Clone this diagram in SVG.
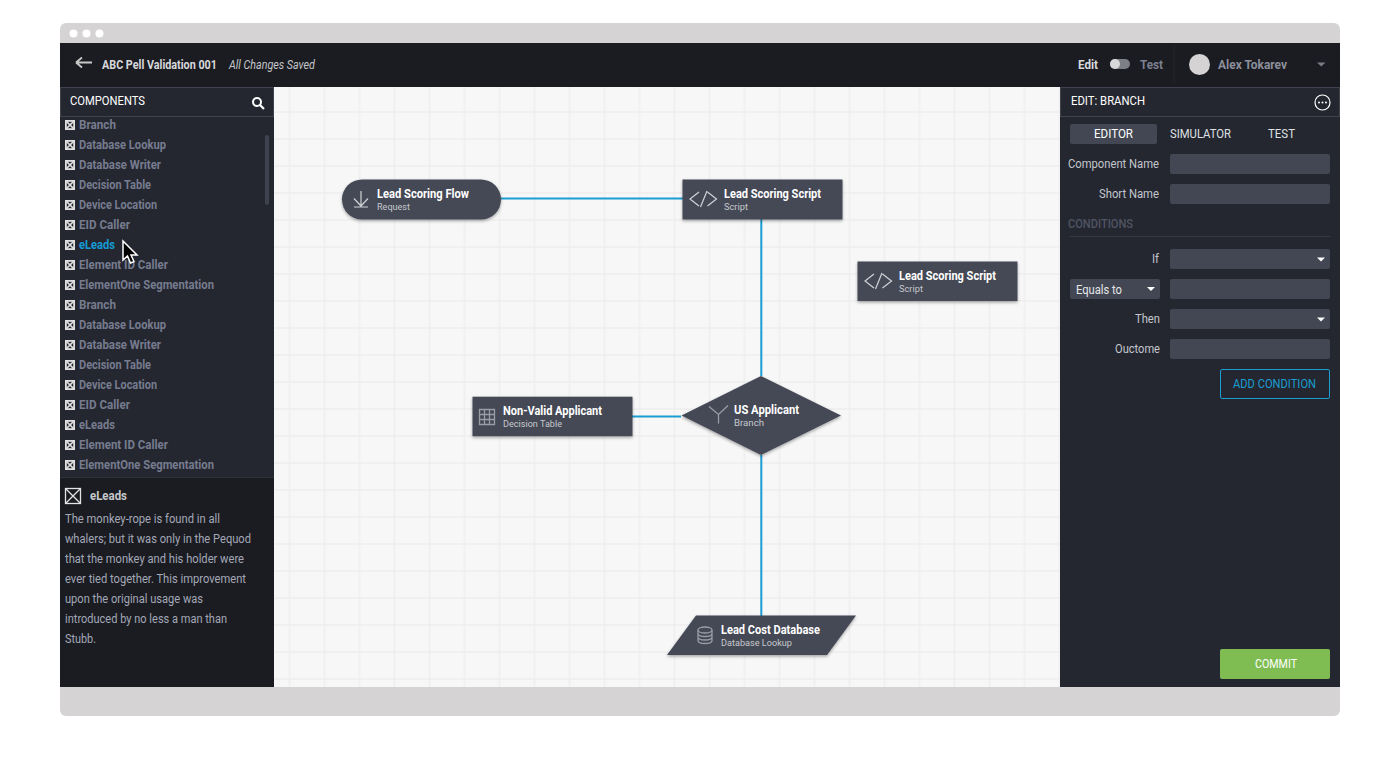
<svg xmlns="http://www.w3.org/2000/svg" width="1400" height="768" viewBox="0 0 1400 768">
<defs>
<pattern id="grid" x="288.500" y="30" width="35" height="27" patternUnits="userSpaceOnUse">
<rect width="35" height="27" fill="#f7f7f7"/>
<path d="M1 0V27M0 1H35" stroke="#eeeeee" stroke-width="1.500" fill="none"/>
</pattern>
<filter id="sh" x="-10%" y="-20%" width="120%" height="150%"><feDropShadow dx="0" dy="1.500" stdDeviation="1.500" flood-color="#000" flood-opacity="0.35"/></filter>
<symbol id="x" viewBox="0 0 10 10" overflow="visible"><rect x="0.900" y="0.900" width="8.200" height="8.200" fill="#252730" stroke="#e0e0e0" stroke-width="1.800"/><path d="M1.500 1.500L8.500 8.500M8.500 1.500L1.500 8.500" stroke="#e0e0e0" stroke-width="1.700"/></symbol>
</defs>
<style>
text{font-family:"Roboto","Liberation Sans",sans-serif}
.li{font-size:12px;font-weight:700;fill:#767c8f}
.t{font-size:12.5px;font-weight:700;fill:#fff}
.s{font-size:9.5px;fill:#c6c8ce}
.lb{font-size:12px;fill:#c3c6ce}
.h{font-size:12px;fill:#fff}
.d{font-size:12px;fill:#a3a8b8}
.fld{fill:#424753}
.n{fill:#444955;filter:url(#sh)}
.ic{fill:none;stroke:#d0d2d6;stroke-width:1.200}
.ic2{fill:none;stroke:#9a9da6;stroke-width:1.300}
.car{fill:#fff}
</style>
<rect width="1400" height="768" fill="#fff"/>
<rect x="60" y="23" width="1280" height="693" rx="6" fill="#d5d3d4"/>
<g fill="#fff"><circle cx="73.500" cy="33.500" r="4"/><circle cx="86.500" cy="33.500" r="4"/><circle cx="99.500" cy="33.500" r="4"/></g>

<g id="topbar">
<rect x="60" y="43" width="1280" height="44" fill="#1b1c21"/>
<path d="M76 62.500H92M76 62.500L82 57.500M76 62.500L82 67.500" fill="none" stroke="#c9c9c9" stroke-width="1.800"/>
<text x="102" y="69" class="t" style="font-size:12px;fill:#d8d9dc" textLength="115" lengthAdjust="spacingAndGlyphs">ABC Pell Validation 001</text>
<text x="229" y="69" font-size="12" font-style="italic" fill="#c3c5ca" textLength="86" lengthAdjust="spacingAndGlyphs">All Changes Saved</text>
<text x="1078" y="69" font-size="12" font-weight="700" fill="#d8d9dc" textLength="20" lengthAdjust="spacingAndGlyphs">Edit</text>
<rect x="1110" y="59" width="20" height="10" rx="5" fill="#7d7f86"/><circle cx="1115" cy="64" r="5" fill="#d8d8d8"/>
<text x="1140" y="69" font-size="12" font-weight="700" fill="#7c8090" textLength="23" lengthAdjust="spacingAndGlyphs">Test</text>
<path d="M1174 44V83" stroke="#24252b"/>
<circle cx="1199.500" cy="64.500" r="10.500" fill="#d5d3d4"/>
<text x="1218" y="69" font-size="12" font-weight="700" fill="#8b8f9b" textLength="69" lengthAdjust="spacingAndGlyphs">Alex Tokarev</text>
<path d="M1317 62.500H1325.500L1321.200 66.500Z" fill="#7a7d86"/>
</g>

<rect x="274" y="87" width="786" height="600" fill="url(#grid)"/>

<g id="sidebar">
<rect x="60" y="87" width="214" height="391" fill="#252730"/>
<rect x="60.500" y="87.500" width="213" height="29" fill="#252730" stroke="#3f4350"/>
<text x="70" y="105" class="h" textLength="75" lengthAdjust="spacingAndGlyphs">COMPONENTS</text>
<circle cx="257" cy="102" r="4" fill="none" stroke="#fff" stroke-width="2"/><path d="M260 105L264 109" stroke="#fff" stroke-width="2.200"/>
<rect x="265" y="135" width="4" height="70" rx="2" fill="#3e424e"/>
<g>
<use href="#x" x="65" y="120" width="10" height="10"/><text x="79" y="129" class="li" textLength="37" lengthAdjust="spacingAndGlyphs">Branch</text>
<use href="#x" x="65" y="140" width="10" height="10"/><text x="79" y="149" class="li" textLength="87" lengthAdjust="spacingAndGlyphs">Database Lookup</text>
<use href="#x" x="65" y="160" width="10" height="10"/><text x="79" y="169" class="li" textLength="82" lengthAdjust="spacingAndGlyphs">Database Writer</text>
<use href="#x" x="65" y="180" width="10" height="10"/><text x="79" y="189" class="li" textLength="72" lengthAdjust="spacingAndGlyphs">Decision Table</text>
<use href="#x" x="65" y="200" width="10" height="10"/><text x="79" y="209" class="li" textLength="78" lengthAdjust="spacingAndGlyphs">Device Location</text>
<use href="#x" x="65" y="220" width="10" height="10"/><text x="79" y="229" class="li" textLength="51" lengthAdjust="spacingAndGlyphs">EID Caller</text>
<use href="#x" x="65" y="240" width="10" height="10"/><text x="79" y="249" class="li" style="fill:#169bd5" textLength="36" lengthAdjust="spacingAndGlyphs">eLeads</text>
<use href="#x" x="65" y="260" width="10" height="10"/><text x="79" y="269" class="li" textLength="89" lengthAdjust="spacingAndGlyphs">Element ID Caller</text>
<use href="#x" x="65" y="280" width="10" height="10"/><text x="79" y="289" class="li" textLength="135" lengthAdjust="spacingAndGlyphs">ElementOne Segmentation</text>
<use href="#x" x="65" y="300" width="10" height="10"/><text x="79" y="309" class="li" textLength="37" lengthAdjust="spacingAndGlyphs">Branch</text>
<use href="#x" x="65" y="320" width="10" height="10"/><text x="79" y="329" class="li" textLength="87" lengthAdjust="spacingAndGlyphs">Database Lookup</text>
<use href="#x" x="65" y="340" width="10" height="10"/><text x="79" y="349" class="li" textLength="82" lengthAdjust="spacingAndGlyphs">Database Writer</text>
<use href="#x" x="65" y="360" width="10" height="10"/><text x="79" y="369" class="li" textLength="72" lengthAdjust="spacingAndGlyphs">Decision Table</text>
<use href="#x" x="65" y="380" width="10" height="10"/><text x="79" y="389" class="li" textLength="78" lengthAdjust="spacingAndGlyphs">Device Location</text>
<use href="#x" x="65" y="400" width="10" height="10"/><text x="79" y="409" class="li" textLength="51" lengthAdjust="spacingAndGlyphs">EID Caller</text>
<use href="#x" x="65" y="420" width="10" height="10"/><text x="79" y="429" class="li" textLength="36" lengthAdjust="spacingAndGlyphs">eLeads</text>
<use href="#x" x="65" y="440" width="10" height="10"/><text x="79" y="449" class="li" textLength="89" lengthAdjust="spacingAndGlyphs">Element ID Caller</text>
<use href="#x" x="65" y="460" width="10" height="10"/><text x="79" y="469" class="li" textLength="135" lengthAdjust="spacingAndGlyphs">ElementOne Segmentation</text>
</g>
<rect x="60" y="477" width="214" height="210" fill="#1b1c21"/>
<path d="M60 477.500H274" stroke="#30323b"/>
<rect x="65.500" y="488.500" width="15" height="15" fill="none" stroke="#e4e4e4" stroke-width="1.300"/><path d="M66 489L80 503M80 489L66 503" stroke="#e4e4e4" stroke-width="1.300"/>
<text x="90" y="500" font-size="12" font-weight="700" fill="#c6c8cd" textLength="37" lengthAdjust="spacingAndGlyphs">eLeads</text>
<text x="65" y="523" class="d" textLength="155" lengthAdjust="spacingAndGlyphs">The monkey-rope is found in all</text>
<text x="65" y="543" class="d" textLength="186" lengthAdjust="spacingAndGlyphs">whalers; but it was only in the Pequod</text>
<text x="65" y="563" class="d" textLength="179" lengthAdjust="spacingAndGlyphs">that the monkey and his holder were</text>
<text x="65" y="583" class="d" textLength="181" lengthAdjust="spacingAndGlyphs">ever tied together. This improvement</text>
<text x="65" y="603" class="d" textLength="138" lengthAdjust="spacingAndGlyphs">upon the original usage was</text>
<text x="65" y="623" class="d" textLength="162" lengthAdjust="spacingAndGlyphs">introduced by no less a man than</text>
<text x="65" y="643" class="d" textLength="31" lengthAdjust="spacingAndGlyphs">Stubb.</text>
<path d="M123 241V260L127.500 256L130.500 263L134 261.500L131 255H137Z" fill="#000" stroke="#fff" stroke-width="1.500"/>
</g>

<g id="connectors" fill="none" stroke="#1a9dd2" stroke-width="2">
<path d="M501 198.500H683"/>
<path d="M761.300 219V376"/>
<path d="M632 416.500H681"/>
<path d="M761.300 455V616"/>
</g>

<g id="node-flow">
<rect class="n" x="342" y="179.500" width="159" height="40" rx="20"/>
<path d="M361 191V206M354 198.500L361 206L368 198.500M354 207H368" class="ic"/>
<text x="377" y="198" class="t" textLength="92" lengthAdjust="spacingAndGlyphs">Lead Scoring Flow</text>
<text x="377" y="210" class="s" textLength="33" lengthAdjust="spacingAndGlyphs">Request</text>
</g>
<g id="node-script1">
<rect class="n" x="682.500" y="179.500" width="160" height="40"/>
<path d="M699 192L690 199L699 206M700.500 207L707 191M707.500 192L716.500 199L707.500 206" class="ic"/>
<text x="724" y="198" class="t" textLength="97" lengthAdjust="spacingAndGlyphs">Lead Scoring Script</text>
<text x="724" y="210" class="s" textLength="24" lengthAdjust="spacingAndGlyphs">Script</text>
</g>
<g id="node-script2">
<rect class="n" x="857.500" y="261.500" width="160" height="39.500"/>
<path d="M874 274L865 281L874 288M875.500 289L882 273M882.500 274L891.500 281L882.500 288" class="ic"/>
<text x="899" y="280" class="t" textLength="97" lengthAdjust="spacingAndGlyphs">Lead Scoring Script</text>
<text x="899" y="292" class="s" textLength="24" lengthAdjust="spacingAndGlyphs">Script</text>
</g>
<g id="node-table">
<rect class="n" x="472.500" y="396.700" width="160" height="39.500"/>
<path d="M479.500 409.500H494.500V424.500H479.500ZM479.500 414.500H494.500M479.500 419.500H494.500M484.500 409.500V424.500M489.500 409.500V424.500" class="ic2"/>
<text x="503" y="415" class="t" textLength="99" lengthAdjust="spacingAndGlyphs">Non-Valid Applicant</text>
<text x="503" y="427" class="s" textLength="59" lengthAdjust="spacingAndGlyphs">Decision Table</text>
</g>
<g id="node-branch">
<polygon class="n" points="761,376 841,415.500 761,455 681.500,415.500"/>
<path d="M709 406.500L718.500 414.500L728 405.500M718.500 414.500V423.500" class="ic2"/>
<text x="734" y="414" class="t" textLength="65" lengthAdjust="spacingAndGlyphs">US Applicant</text>
<text x="734" y="426" class="s" textLength="30" lengthAdjust="spacingAndGlyphs">Branch</text>
</g>
<g id="node-db">
<polygon class="n" points="696,615.500 856,615.500 827,655 667,655"/>
<ellipse cx="705" cy="630" rx="7" ry="3" class="ic2"/>
<path d="M698 630V640.500C698 642.500 701 643.500 705 643.500C709 643.500 712 642.500 712 640.500V630M698 633.500C698 635.500 701 636.500 705 636.500C709 636.500 712 635.500 712 633.500M698 637C698 639 701 640 705 640C709 640 712 639 712 637" class="ic2"/>
<text x="721" y="634" class="t" textLength="99" lengthAdjust="spacingAndGlyphs">Lead Cost Database</text>
<text x="721" y="646" class="s" textLength="71" lengthAdjust="spacingAndGlyphs">Database Lookup</text>
</g>

<g id="editor">
<rect x="1060" y="87" width="280" height="600" fill="#252730"/>
<rect x="1060.500" y="87.500" width="279" height="29" fill="#252730" stroke="#3f4350"/>
<text x="1071" y="105" class="h" textLength="74" lengthAdjust="spacingAndGlyphs">EDIT: BRANCH</text>
<circle cx="1322.500" cy="102.500" r="7.500" fill="none" stroke="#fff" stroke-width="1.200"/>
<g fill="#fff"><circle cx="1319" cy="102.500" r="1"/><circle cx="1322.500" cy="102.500" r="1"/><circle cx="1326" cy="102.500" r="1"/></g>
<rect x="1070" y="124" width="87" height="20" rx="2" class="fld"/>
<text x="1094" y="138" class="h" textLength="39" lengthAdjust="spacingAndGlyphs">EDITOR</text>
<text x="1170" y="138" class="h" style="fill:#dfe0e3" textLength="61" lengthAdjust="spacingAndGlyphs">SIMULATOR</text>
<text x="1268" y="138" class="h" style="fill:#dfe0e3" textLength="27" lengthAdjust="spacingAndGlyphs">TEST</text>
<text x="1068" y="168" class="lb" textLength="91" lengthAdjust="spacingAndGlyphs">Component Name</text>
<rect x="1170" y="154" width="160" height="20" rx="2" class="fld"/>
<text x="1099" y="198" class="lb" textLength="60" lengthAdjust="spacingAndGlyphs">Short Name</text>
<rect x="1170" y="184" width="160" height="20" rx="2" class="fld"/>
<text x="1068" y="228" font-size="12" font-weight="500" fill="#4f5462" textLength="65" lengthAdjust="spacingAndGlyphs">CONDITIONS</text>
<path d="M1070 236.500H1330" stroke="#363944"/>
<text x="1152" y="263" class="lb" textLength="7" lengthAdjust="spacingAndGlyphs">If</text>
<rect x="1170" y="249" width="160" height="20" rx="2" class="fld"/>
<path d="M1317 257.500H1325L1321 261.500Z" class="car"/>
<rect x="1070" y="279" width="90" height="20" rx="2" class="fld"/>
<text x="1076" y="294" class="h" style="fill:#e6e7ea" textLength="46" lengthAdjust="spacingAndGlyphs">Equals to</text>
<path d="M1147 287H1155L1151 291Z" class="car"/>
<rect x="1170" y="279" width="160" height="20" rx="2" class="fld"/>
<text x="1135" y="323" class="lb" textLength="25" lengthAdjust="spacingAndGlyphs">Then</text>
<rect x="1170" y="309" width="160" height="20" rx="2" class="fld"/>
<path d="M1317 317.500H1325L1321 321.500Z" class="car"/>
<text x="1115" y="353" class="lb" textLength="45" lengthAdjust="spacingAndGlyphs">Ouctome</text>
<rect x="1170" y="339" width="160" height="20" rx="2" class="fld"/>
<rect x="1220.500" y="369.500" width="109" height="29" rx="1.500" fill="none" stroke="#1a9dd2"/>
<text x="1233" y="388" font-size="12" fill="#1a9dd2" textLength="83" lengthAdjust="spacingAndGlyphs">ADD CONDITION</text>
<rect x="1220" y="649" width="110" height="30" rx="2" fill="#7fbd52"/>
<text x="1255" y="668" font-size="12" fill="#fff" textLength="42" lengthAdjust="spacingAndGlyphs">COMMIT</text>
</g>
</svg>
